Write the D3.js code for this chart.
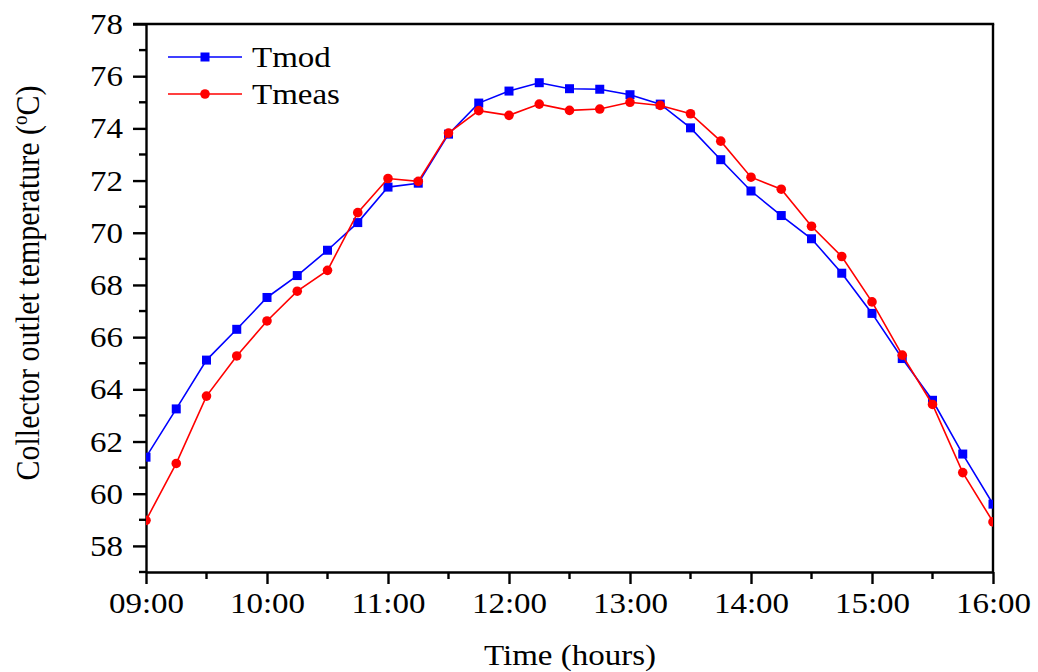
<!DOCTYPE html>
<html>
<head>
<meta charset="utf-8">
<script src="https://cdn.jsdelivr.net/npm/d3@7"></script>
<style>
  html, body { margin: 0; padding: 0; background: #fff; }
  svg { display: block; }
</style>
</head>
<body>
<svg id="chart" width="1038" height="672"></svg>
<script>
// Sampling times (every 15 minutes)
const times = ["09:00","09:15","09:30","09:45","10:00","10:15","10:30","10:45",
               "11:00","11:15","11:30","11:45","12:00","12:15","12:30","12:45",
               "13:00","13:15","13:30","13:45","14:00","14:15","14:30","14:45",
               "15:00","15:15","15:30","15:45","16:00"];

// Modelled collector outlet temperature (°C)
const tmod = [61.4, 63.25, 65.12, 66.3, 67.52, 68.36, 69.33, 70.39,
              71.75, 71.9, 73.78, 74.97, 75.43, 75.75, 75.52, 75.5,
              75.29, 74.93, 74.02, 72.8, 71.6, 70.66, 69.77, 68.45,
              66.91, 65.18, 63.58, 61.52, 59.6];

// Measured collector outlet temperature (°C)
const tmeas = [58.98, 61.16, 63.74, 65.28, 66.62, 67.76, 68.56, 70.77,
               72.08, 71.97, 73.82, 74.68, 74.5, 74.93, 74.69, 74.74,
               75.0, 74.88, 74.56, 73.51, 72.13, 71.67, 70.25, 69.09,
               67.35, 65.31, 63.42, 60.81, 58.92];

const xTicks = ["09:00","10:00","11:00","12:00","13:00","14:00","15:00","16:00"];
const yTicks = [58, 60, 62, 64, 66, 68, 70, 72, 74, 76, 78];
const seriesNames = ["Tmod", "Tmeas"];
const seriesColors = ["#0000ff", "#ff0000"];

const FONT = "'Liberation Serif', 'Times New Roman', Times, serif";
const toHours = s => { const [h, m] = s.split(":").map(Number); return h + m / 60; };

const svg = d3.select("#chart");
const L = 146, R = 993, T = 24, B = 572;
const stretch = 1.1; // glyphs drawn slightly wide

const x = d3.scaleLinear().domain([9, 16]).range([L, R]);
const y = d3.scaleLinear().domain([57, 78]).range([B, T]);

// Clip region for the data
svg.append("defs").append("clipPath").attr("id", "plot-clip")
  .append("rect").attr("x", L).attr("y", T).attr("width", R - L).attr("height", B - T);

// Axes
const axisW = 2.4;
const xAxis = d3.axisBottom(x)
  .tickValues(xTicks.map(toHours))
  .tickFormat((d, i) => xTicks[i])
  .tickSize(12).tickPadding(8).tickSizeOuter(0);
const gx = svg.append("g").attr("transform", `translate(0,${B})`).call(xAxis);

const yAxis = d3.axisLeft(y)
  .tickValues(yTicks)
  .tickFormat(d3.format("d"))
  .tickSize(13).tickPadding(10).tickSizeOuter(0);
const gy = svg.append("g").attr("transform", `translate(${L},0)`).call(yAxis);

// Minor ticks
const xMinor = d3.range(9.5, 16, 1);
svg.append("g").selectAll("line").data(xMinor).join("line")
  .attr("x1", d => x(d)).attr("x2", d => x(d))
  .attr("y1", B).attr("y2", B + 7)
  .attr("stroke", "#000").attr("stroke-width", axisW);
const yMinor = d3.range(59, 78, 2).concat([57]);
svg.append("g").selectAll("line").data(yMinor).join("line")
  .attr("x1", L - 7).attr("x2", L)
  .attr("y1", d => y(d)).attr("y2", d => y(d))
  .attr("stroke", "#000").attr("stroke-width", axisW);

[gx, gy].forEach(g => {
  g.select(".domain").attr("stroke", "#000").attr("stroke-width", axisW);
  g.selectAll(".tick line").attr("stroke", "#000").attr("stroke-width", axisW);
  g.selectAll(".tick text")
    .style("font-family", FONT)
    .style("font-size", "30px")
    .attr("fill", "#000");
});

// Stretch tick labels horizontally around their anchor
gx.selectAll(".tick text").attr("transform", `scale(${stretch},1)`);
gy.selectAll(".tick text").each(function () {
  const t = d3.select(this);
  const xx = +t.attr("x");
  t.attr("x", xx / stretch).attr("transform", `scale(${stretch},1)`);
});

// Top and right frame lines
svg.append("line").attr("x1", L - 13).attr("x2", R + axisW / 2)
  .attr("y1", T).attr("y2", T)
  .attr("stroke", "#000").attr("stroke-width", axisW);
svg.append("line").attr("x1", R).attr("x2", R)
  .attr("y1", T).attr("y2", B)
  .attr("stroke", "#000").attr("stroke-width", axisW);

// Axis titles
svg.append("text")
  .attr("transform", `translate(570,665) scale(${stretch},1)`)
  .attr("text-anchor", "middle")
  .style("font-family", FONT).style("font-size", "30px")
  .text("Time (hours)");

const yt = svg.append("text")
  .attr("transform", `translate(39,283) scale(${stretch},1) rotate(-90)`)
  .attr("text-anchor", "middle")
  .style("font-family", FONT).style("font-size", "30px");
yt.append("tspan").text("Collector outlet temperature (");
yt.append("tspan").attr("dy", -11).style("font-size", "19px").text("o");
yt.append("tspan").attr("dy", 11).text("C)");

// Data series
const series = [tmod, tmeas];
const plot = svg.append("g").attr("clip-path", "url(#plot-clip)");
const line = d3.line().x((d, i) => x(toHours(times[i]))).y(d => y(d));

function drawMarker(g, kind, cx, cy, color) {
  if (kind === 0) {
    g.append("rect").attr("x", cx - 4.5).attr("y", cy - 4.5)
      .attr("width", 9).attr("height", 9).attr("fill", color);
  } else {
    g.append("circle").attr("cx", cx).attr("cy", cy).attr("r", 4.8).attr("fill", color);
  }
}

series.forEach((vals, k) => {
  plot.append("path").datum(vals)
    .attr("d", line)
    .attr("fill", "none")
    .attr("stroke", seriesColors[k])
    .attr("stroke-width", 1.6);
  const mg = plot.append("g");
  vals.forEach((v, i) => drawMarker(mg, k, x(toHours(times[i])), y(v), seriesColors[k]));
});

// Legend
const legend = svg.append("g");
seriesNames.forEach((name, k) => {
  const ly = 57 + k * 37;
  legend.append("line").attr("x1", 168).attr("x2", 242)
    .attr("y1", ly).attr("y2", ly)
    .attr("stroke", seriesColors[k]).attr("stroke-width", 1.6);
  drawMarker(legend, k, 205, ly, seriesColors[k]);
  legend.append("text")
    .attr("transform", `translate(252,${ly + 10}) scale(${stretch},1)`)
    .style("font-family", FONT).style("font-size", "30px")
    .text(name);
});
</script>
</body>
</html>
